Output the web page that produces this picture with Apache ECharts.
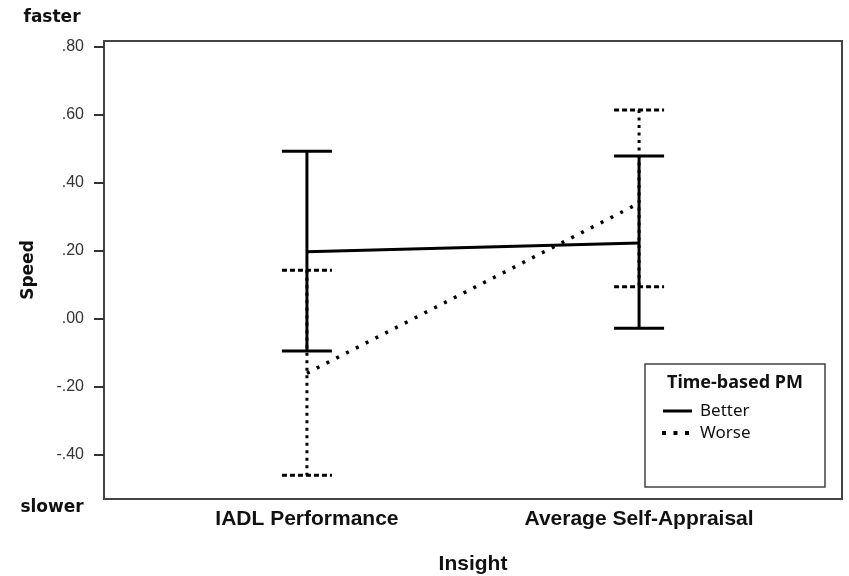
<!DOCTYPE html>
<html>
<head>
<meta charset="utf-8">
<script src="https://cdn.jsdelivr.net/npm/echarts@6/dist/echarts.min.js"></script>
<style>html,body{margin:0;padding:0;background:#fff;}#chart{width:849px;height:576px;}</style>
</head>
<body>
<div id="chart"></div>
<script>
const categories = ['IADL Performance', 'Average Self-Appraisal'];
const seriesNames = ['Better', 'Worse'];
const betterMean = [0.196, 0.222];
const betterLow = [-0.096, -0.029];
const betterHigh = [0.492, 0.478];
const worseMean = [-0.161, 0.339];
const worseLow = [-0.461, 0.093];
const worseHigh = [0.142, 0.613];
const yTicks = [-0.4, -0.2, 0, 0.2, 0.4, 0.6, 0.8];

const font = 'Liberation Sans, Arial, sans-serif';
const wideFont = 'DejaVu Sans, Verdana, sans-serif';
const legendFont = 'Noto Sans, sans-serif';
const chart = echarts.init(document.getElementById('chart'));

function fmt(v) {
  const s = Number(v).toFixed(2);
  return s.replace(/^(-?)0\./, '$1.');
}

function errBar(low, high, dashed) {
  return {
    type: 'custom',
    silent: true,
    z: dashed ? 4 : 3,
    data: categories.map((c, i) => [i, low[i], high[i]]),
    encode: { x: 0, y: [1, 2] },
    renderItem: function (params, api) {
      const top = api.coord([api.value(0), api.value(2)]);
      const bot = api.coord([api.value(0), api.value(1)]);
      const hw = 25;
      const vStyle = { stroke: '#000', lineWidth: 3, lineDash: dashed ? [3, 4.5] : null };
      const cStyle = { stroke: '#000', lineWidth: 3, lineDash: dashed ? [5, 3] : null };
      return {
        type: 'group',
        children: [
          { type: 'line', shape: { x1: top[0], y1: top[1], x2: bot[0], y2: bot[1] }, style: vStyle },
          { type: 'line', shape: { x1: top[0] - hw, y1: top[1], x2: top[0] + hw, y2: top[1] }, style: cStyle },
          { type: 'line', shape: { x1: bot[0] - hw, y1: bot[1], x2: bot[0] + hw, y2: bot[1] }, style: cStyle }
        ]
      };
    }
  };
}

const option = {
  animation: false,
  backgroundColor: '#fff',
  grid: { left: 104, right: 7, top: 41, bottom: 77, show: true, borderColor: '#444', borderWidth: 2, backgroundColor: 'transparent', containLabel: false, outerBoundsMode: 'none' },
  xAxis: {
    type: 'value',
    min: -0.611,
    max: 1.611,
    splitLine: { show: false },
    axisLine: { show: false },
    axisTick: { show: false },
    axisLabel: {
      customValues: [0, 1],
      formatter: v => categories[Math.round(v)] || '',
      fontFamily: font, fontWeight: 'bold', fontSize: 21, color: '#111', margin: 10
    },
    name: 'Insight',
    nameLocation: 'middle',
    nameGap: 55,
    nameTextStyle: { fontFamily: font, fontWeight: 'bold', fontSize: 21, color: '#111' }
  },
  yAxis: {
    type: 'value',
    min: -0.531,
    max: 0.816,
    splitLine: { show: false },
    axisLine: { show: true, onZero: false, lineStyle: { color: '#444', width: 2 } },
    axisTick: { show: true, customValues: yTicks, length: 10, lineStyle: { color: '#333', width: 2 } },
    axisLabel: {
      customValues: yTicks,
      formatter: fmt,
      fontFamily: font, fontSize: 16, color: '#333', margin: 20
    },
    name: 'Speed',
    nameLocation: 'middle',
    nameGap: 67,
    nameTextStyle: { fontFamily: wideFont, fontWeight: 'bold', fontSize: 17, color: '#111' }
  },
  graphic: [
    { type: 'rect', shape: { x: 645, y: 364, width: 180, height: 123 }, style: { fill: '#fff', stroke: '#444', lineWidth: 1.5 }, z: 10 },
    { type: 'text', x: 735, y: 383, style: { text: 'Time-based PM', font: 'bold 18px ' + legendFont, fill: '#111', align: 'center', verticalAlign: 'middle' }, z: 11 },
    { type: 'line', shape: { x1: 663, y1: 411, x2: 692, y2: 411 }, style: { stroke: '#000', lineWidth: 3 }, z: 11 },
    { type: 'text', x: 700, y: 411, style: { text: seriesNames[0], font: '17px ' + legendFont, fill: '#111', align: 'left', verticalAlign: 'middle' }, z: 11 },
    { type: 'line', shape: { x1: 662, y1: 433, x2: 692, y2: 433 }, style: { stroke: '#000', lineWidth: 4, lineDash: [4, 7.5] }, z: 11 },
    { type: 'text', x: 700, y: 433, style: { text: seriesNames[1], font: '17px ' + legendFont, fill: '#111', align: 'left', verticalAlign: 'middle' }, z: 11 },
    { type: 'text', x: 52, y: 18, style: { text: 'faster', font: 'bold 17px ' + wideFont, fill: '#111', align: 'center', verticalAlign: 'middle' } },
    { type: 'text', x: 52, y: 508, style: { text: 'slower', font: 'bold 17px ' + wideFont, fill: '#111', align: 'center', verticalAlign: 'middle' } }
  ],
  series: [
    {
      name: seriesNames[0], type: 'line', symbol: 'none', z: 5,
      data: categories.map((c, i) => [i, betterMean[i]]),
      lineStyle: { color: '#000', width: 3 },
      itemStyle: { color: '#000' }
    },
    {
      name: seriesNames[1], type: 'line', symbol: 'none', z: 5,
      data: categories.map((c, i) => [i, worseMean[i]]),
      lineStyle: { color: '#000', width: 3.5, type: [3, 8] },
      itemStyle: { color: '#000' }
    },
    errBar(betterLow, betterHigh, false),
    errBar(worseLow, worseHigh, true)
  ]
};
chart.setOption(option);
</script>
</body>
</html>
